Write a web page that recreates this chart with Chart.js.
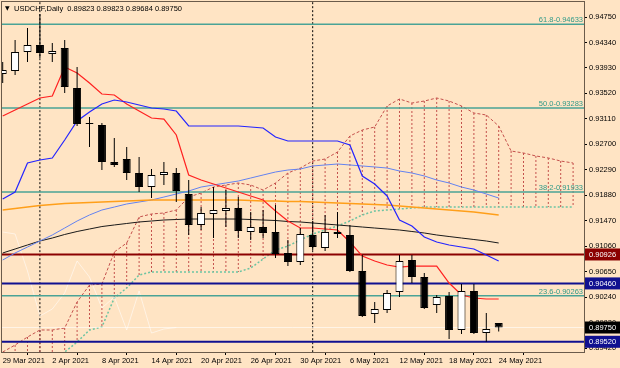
<!DOCTYPE html>
<html>
<head>
<meta charset="utf-8">
<script src="https://cdn.jsdelivr.net/npm/chart.js@4.4.1/dist/chart.umd.min.js"></script>
<style>
html, body { margin: 0; padding: 0; background: #ffe4c4; }
canvas { display: block; }
</style>
</head>
<body>
<canvas id="grafico" width="620" height="368"></canvas>
<script>
//Velas diarias USDCHF (29 Mar 2021 - 24 May 2021), una por indice
var apertura = [0.93832, 0.93880, 0.94186, 0.94299, 0.94154, 0.94251, 0.93607, 0.93043, 0.93011, 0.92415,
                0.92463, 0.92238, 0.92012, 0.92206, 0.92238, 0.91900, 0.91401, 0.91578, 0.91626, 0.91674,
                0.91288, 0.91368, 0.91288, 0.90950, 0.90805, 0.91240, 0.91030, 0.91288, 0.91240, 0.90660,
                0.89967, 0.90032, 0.90322, 0.90837, 0.90563, 0.90112, 0.90257, 0.89710, 0.90338, 0.89661, 0.89823];
var maximo   = [0.94025, 0.94380, 0.94573, 0.94800, 0.94331, 0.94380, 0.93945, 0.93140, 0.93043, 0.92802,
                0.92657, 0.92496, 0.92302, 0.92415, 0.92318, 0.92125, 0.91690, 0.92012, 0.91964, 0.91851,
                0.91610, 0.91642, 0.91723, 0.91159, 0.91352, 0.91465, 0.91562, 0.91610, 0.91401, 0.90918,
                0.90161, 0.90354, 0.90918, 0.90918, 0.90628, 0.90273, 0.90322, 0.90451, 0.90451, 0.89984, 0.89823];
var minimo   = [0.93687, 0.93816, 0.94025, 0.94090, 0.94025, 0.93526, 0.92995, 0.92657, 0.92286, 0.92335,
                0.92125, 0.91932, 0.91835, 0.92045, 0.91771, 0.91240, 0.91320, 0.91191, 0.91368, 0.91191,
                0.91159, 0.91191, 0.90869, 0.90740, 0.90757, 0.90998, 0.90982, 0.91191, 0.90644, 0.89919,
                0.89823, 0.89984, 0.90241, 0.90467, 0.90048, 0.89984, 0.89565, 0.89645, 0.89645, 0.89520, 0.89684];
var cierre   = [0.93897, 0.94186, 0.94299, 0.94170, 0.94203, 0.93623, 0.93027, 0.93027, 0.92415, 0.92367,
                0.92238, 0.92012, 0.92206, 0.92254, 0.91948, 0.91401, 0.91594, 0.91642, 0.91674, 0.91304,
                0.91368, 0.91272, 0.90934, 0.90805, 0.91256, 0.91046, 0.91288, 0.91256, 0.90660, 0.89935,
                0.90048, 0.90306, 0.90821, 0.90563, 0.90064, 0.90241, 0.89710, 0.90338, 0.89661, 0.89726, 0.89750];

//Ichimoku
var tenkan = [0.93156, 0.93252, 0.93349, 0.93446, 0.93478, 0.93945, 0.93848, 0.93687, 0.93510, 0.93494,
              0.93349, 0.93236, 0.93124, 0.93107, 0.92850, 0.92206, 0.92125, 0.92061, 0.91996, 0.91932,
              0.91868, 0.91803, 0.91626, 0.91465, 0.91352, 0.91352, 0.91336, 0.91320, 0.91127, 0.90901,
              0.90821, 0.90756, 0.90724, 0.90740, 0.90740, 0.90740, 0.90467, 0.90273, 0.90225, 0.90209, 0.90209];
var kijun = [0.91819, 0.91932, 0.92399, 0.92447, 0.92480, 0.92769, 0.93075, 0.93220, 0.93349, 0.93413,
             0.93381, 0.93333, 0.93285, 0.93269, 0.93236, 0.92995, 0.92995, 0.92995, 0.92995, 0.92995,
             0.92979, 0.92963, 0.92818, 0.92753, 0.92753, 0.92753, 0.92753, 0.92753, 0.92689, 0.92190,
             0.92061, 0.91868, 0.91481, 0.91385, 0.91207, 0.91127, 0.91079, 0.91046, 0.91014, 0.90918, 0.90821];
var spanA = [0.89355, 0.89468, 0.89597, 0.89710, 0.89710, 0.89742, 0.90161, 0.90434, 0.90451, 0.90966,
             0.91111, 0.91529, 0.91578, 0.91594, 0.91642, 0.91851, 0.91916, 0.92012, 0.92045, 0.92077,
             0.92045, 0.91964, 0.92077, 0.92238, 0.92318, 0.92431, 0.92463, 0.92576, 0.92834, 0.92930,
             0.92979, 0.93317, 0.93430, 0.93365, 0.93397, 0.93446, 0.93397, 0.93317, 0.93204, 0.93172,
             0.92995, 0.92592, 0.92560, 0.92512, 0.92480, 0.92431, 0.92399];
var spanB = [0.89200, 0.89200, 0.89200, 0.89230, 0.89280, 0.89355, 0.89516, 0.89710, 0.89758, 0.90225,
             0.90386, 0.90595, 0.90644, 0.90644, 0.90644, 0.90644, 0.90644, 0.90644, 0.90644, 0.90644,
             0.90708, 0.90853, 0.90998, 0.91062, 0.91159, 0.91256, 0.91320, 0.91385, 0.91465, 0.91562,
             0.91626, 0.91642, 0.91658, 0.91674, 0.91690, 0.91690, 0.91690, 0.91690, 0.91690, 0.91690,
             0.91690, 0.91690, 0.91690, 0.91690, 0.91690, 0.91690, 0.91690];
var chikou = [0.91288, 0.91256, 0.90660, 0.89935, 0.90048, 0.90306, 0.90821, 0.90563, 0.90064, 0.90241,
              0.89710, 0.90338, 0.89661, 0.89726, 0.89750];

//Medias moviles
var mediaAzul = [0.90837, 0.90950, 0.91046, 0.91143, 0.91240, 0.91352, 0.91465, 0.91562, 0.91642, 0.91690,
                 0.91739, 0.91771, 0.91803, 0.91851, 0.91900, 0.91948, 0.92012, 0.92045, 0.92077, 0.92109,
                 0.92157, 0.92206, 0.92254, 0.92286, 0.92302, 0.92351, 0.92367, 0.92383, 0.92367, 0.92351,
                 0.92335, 0.92318, 0.92270, 0.92238, 0.92190, 0.92125, 0.92077, 0.92012, 0.91964, 0.91900, 0.91835];
var mediaNaranja = [0.91642, 0.91666, 0.91690, 0.91715, 0.91731, 0.91747, 0.91755, 0.91763, 0.91771, 0.91779,
                    0.91787, 0.91795, 0.91803, 0.91803, 0.91803, 0.91803, 0.91803, 0.91803, 0.91803, 0.91803,
                    0.91795, 0.91787, 0.91787, 0.91779, 0.91779, 0.91771, 0.91763, 0.91755, 0.91747, 0.91739,
                    0.91731, 0.91723, 0.91707, 0.91690, 0.91674, 0.91658, 0.91642, 0.91626, 0.91610, 0.91586, 0.91562];
var mediaNegra = [0.90950, 0.91014, 0.91079, 0.91143, 0.91191, 0.91248, 0.91296, 0.91336, 0.91376, 0.91401,
                  0.91425, 0.91449, 0.91465, 0.91481, 0.91489, 0.91497, 0.91497, 0.91497, 0.91497, 0.91497,
                  0.91489, 0.91481, 0.91473, 0.91457, 0.91449, 0.91433, 0.91417, 0.91401, 0.91385, 0.91368,
                  0.91352, 0.91336, 0.91320, 0.91296, 0.91272, 0.91240, 0.91215, 0.91191, 0.91167, 0.91143, 0.91111];

//Niveles Fibonacci y lineas horizontales
var nivelesFibo = [0.94633, 0.93283, 0.91933, 0.90263];
var nombresFibo = ['61.8', '50.0', '38.2', '23.6'];
var lineasNivel = [0.90926, 0.90460, 0.89520];
var coloresNivel = ['#8b0000', '#101090', '#101090'];
var precioActual = 0.89750;
var etiquetasPrecio = [0.90926, 0.90460, 0.89750, 0.89520];
var coloresEtiqueta = ['#8b0000', '#101090', '#000000', '#101090'];

//Separadores de mes (1 Apr, 3 May)
var separadoresMes = [3, 25];

//Etiquetas de ejes
var etiquetasX = ['29 Mar 2021', '2 Apr 2021', '8 Apr 2021', '14 Apr 2021', '20 Apr 2021', '26 Apr 2021',
                  '30 Apr 2021', '6 May 2021', '12 May 2021', '18 May 2021', '24 May 2021'];
var posEtiquetasX = [0, 4, 8, 12, 16, 20, 24, 28, 32, 36, 40];
var ticksY = [0.94750, 0.94340, 0.93930, 0.93520, 0.93110, 0.92700, 0.92290, 0.91880,
              0.91470, 0.91060, 0.90650, 0.90240, 0.89830, 0.89420];

//Construir datos para Chart.js
function serie(valores) {
    return valores.map(function(v, k) { return {x: k, y: v}; });
}

var cuerpos = [], mechas = [], coloresCuerpo = [];
for (var i = 0; i < apertura.length; i++) {
    mechas.push({x: i, y: [minimo[i], maximo[i]]});
    cuerpos.push({x: i, y: [apertura[i], cierre[i]]});
    coloresCuerpo.push(cierre[i] >= apertura[i] ? '#ffffff' : '#000000');
}

var rayado = [];
for (var j = 0; j < spanA.length; j++) {
    rayado.push({x: j, y: spanA[j]}, {x: j, y: spanB[j]}, {x: j, y: null});
}

var separadores = [];
separadoresMes.forEach(function(k) {
    separadores.push({x: k, y: 0.88}, {x: k, y: 0.96}, {x: k, y: null});
});

function linea(datos, color, ancho, orden, guiones) {
    return {
        type: 'line', data: datos, borderColor: color, borderWidth: ancho,
        pointRadius: 0, tension: 0, fill: false, order: orden,
        borderDash: guiones || [], spanGaps: false
    };
}

function horizontal(v) {
    return [{x: -1, y: v}, {x: 48, y: v}];
}

var conjuntos = [];
conjuntos.push(linea(separadores, '#000000', 1, 9, [2, 2]));
conjuntos.push(linea(rayado, '#c4504c', 1, 8, [2, 2]));
conjuntos.push(linea(serie(spanA), '#c4504c', 1, 7, [3, 2]));
conjuntos.push(linea(serie(spanB), '#6cc4a2', 1.5, 7, [2, 2]));
conjuntos.push(linea(serie(chikou), 'rgba(255,255,255,0.55)', 1, 6));
conjuntos.push(linea(horizontal(precioActual), 'rgba(255,255,255,0.6)', 1, 6));
nivelesFibo.forEach(function(v) {
    conjuntos.push(linea(horizontal(v), '#4aa396', 1.5, 5));
});
lineasNivel.forEach(function(v, k) {
    conjuntos.push(linea(horizontal(v), coloresNivel[k], 2, 5));
});
conjuntos.push(linea(serie(mediaNaranja), '#ff9f1a', 1.5, 4));
conjuntos.push(linea(serie(mediaAzul), '#6382f0', 1, 4));
conjuntos.push(linea(serie(mediaNegra), '#1a1a1a', 1, 4));
conjuntos.push(linea(serie(kijun), '#2424ff', 1.2, 3));
conjuntos.push(linea(serie(tenkan), '#ff2020', 1.2, 3));
conjuntos.push({
    type: 'bar', data: mechas, backgroundColor: '#000000', borderWidth: 0,
    maxBarThickness: 1, grouped: false, order: 1
});
conjuntos.push({
    type: 'bar', data: cuerpos, backgroundColor: coloresCuerpo, borderColor: '#000000',
    borderWidth: 1, borderSkipped: false, maxBarThickness: 8, grouped: false, order: 0
});

//Textos: marco, fibo, etiquetas de precio, titulo
var textos = {
    id: 'textos',
    afterDraw: function(chart) {
        var c = chart.ctx, area = chart.chartArea, ey = chart.scales.y;
        c.save();
        c.strokeStyle = '#6b5b4b';
        c.lineWidth = 1;
        c.strokeRect(area.left + 0.5, area.top + 0.5, area.right - area.left, area.bottom - area.top);

        c.font = '7.5px "Liberation Sans", Arial, sans-serif';
        c.fillStyle = '#2f9a88';
        c.textAlign = 'right';
        c.textBaseline = 'alphabetic';
        nivelesFibo.forEach(function(v, k) {
            var y = ey.getPixelForValue(v);
            c.fillText(nombresFibo[k] + '-' + v.toFixed(5), area.right - 1, y - 2);
        });

        c.textAlign = 'left';
        c.textBaseline = 'middle';
        etiquetasPrecio.forEach(function(v, k) {
            var y = ey.getPixelForValue(v);
            c.fillStyle = coloresEtiqueta[k];
            c.fillRect(area.right + 1, y - 6, 36, 12);
            c.fillStyle = '#ffffff';
            c.fillText(v.toFixed(5), area.right + 5, y + 0.5);
        });

        var u = apertura.length - 1;
        c.fillStyle = '#000000';
        c.font = '6px "DejaVu Sans", sans-serif';
        c.fillText('\u25BC', 5, 8.5);
        c.font = '7.5px "Liberation Sans", Arial, sans-serif';
        c.fillText('USDCHF,Daily  ' + apertura[u].toFixed(5) + ' ' + maximo[u].toFixed(5) + ' ' +
                   minimo[u].toFixed(5) + ' ' + cierre[u].toFixed(5), 14, 8.5);
        c.restore();
    }
};

Chart.defaults.font.family = '"Liberation Sans", Arial, sans-serif';
Chart.defaults.font.size = 7.5;
Chart.defaults.color = '#000000';

var ctx = document.getElementById('grafico').getContext('2d');
var grafico = new Chart(ctx, {
    type: 'line',
    data: { datasets: conjuntos },
    plugins: [textos],
    options: {
        responsive: false,
        animation: false,
        devicePixelRatio: 1,
        events: [],
        layout: { padding: { left: 1, top: 1, right: 0, bottom: 0 } },
        plugins: { legend: { display: false }, tooltip: { enabled: false } },
        scales: {
            x: {
                type: 'linear', min: -0.137, max: 46.879, offset: false, bounds: 'data',
                grid: { drawOnChartArea: false, drawTicks: true, tickLength: 3, color: '#000000' },
                border: { display: false },
                afterBuildTicks: function(eje) {
                    eje.ticks = posEtiquetasX.map(function(v) { return {value: v}; });
                },
                afterFit: function(eje) {
                    eje.height = 16;
                    eje.paddingLeft = 0;
                    eje.paddingRight = 0;
                },
                ticks: {
                    autoSkip: false, maxRotation: 0, minRotation: 0, align: 'start', padding: 1,
                    callback: function(valor, indice) { return etiquetasX[indice]; }
                }
            },
            y: {
                type: 'linear', position: 'right', min: 0.893556, max: 0.950077, bounds: 'data',
                grid: { drawOnChartArea: false, drawTicks: true, tickLength: 3, color: '#000000' },
                border: { display: false },
                afterBuildTicks: function(eje) {
                    eje.ticks = ticksY.map(function(v) { return {value: v}; });
                },
                afterFit: function(eje) {
                    eje.width = 36;
                    eje.paddingTop = 0;
                    eje.paddingBottom = 0;
                },
                ticks: {
                    autoSkip: false, padding: 2,
                    callback: function(valor) { return valor.toFixed(5); }
                }
            }
        }
    }
});
</script>
</body>
</html>
